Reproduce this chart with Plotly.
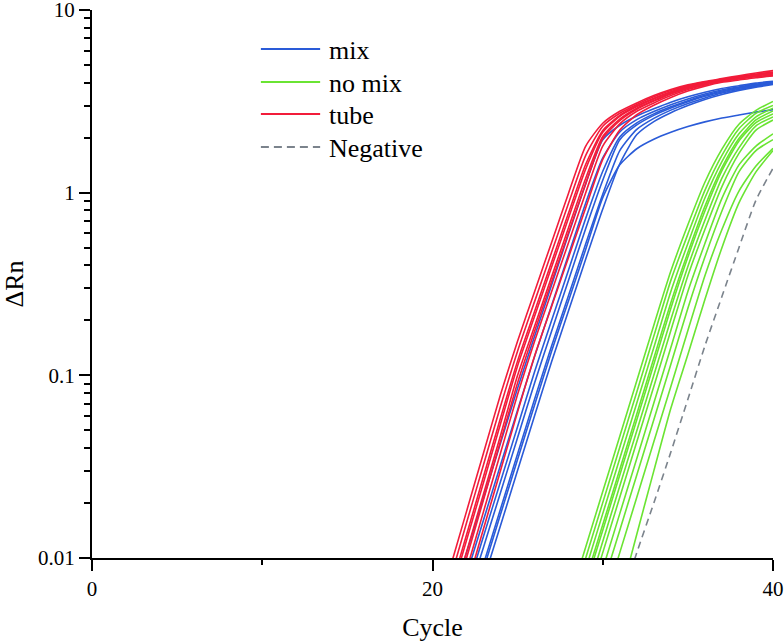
import plotly.graph_objects as go

# ---------------- data ----------------
# Each curve: first cycle number, then ΔRn at consecutive integer cycles up to 40
mix_start = [21, 22, 22, 22, 23, 23, 23]
mix_values = [
    [0.0054, 0.0107, 0.0214, 0.0427, 0.0851, 0.164, 0.313, 0.597, 1.12, 1.95, 2.34, 2.63, 2.88, 3.13, 3.35, 3.55, 3.72, 3.85, 3.98, 4.07],
    [0.0081, 0.0162, 0.0324, 0.0646, 0.127, 0.242, 0.461, 0.879, 1.55, 2.15, 2.51, 2.78, 3.03, 3.26, 3.47, 3.65, 3.79, 3.93, 4.04],
    [0.0066, 0.0132, 0.0263, 0.0525, 0.105, 0.200, 0.380, 0.724, 1.31, 2.02, 2.41, 2.70, 2.95, 3.19, 3.41, 3.60, 3.75, 3.89, 4.01],
    [0.0058, 0.0115, 0.0229, 0.0457, 0.0912, 0.175, 0.334, 0.637, 1.17, 1.95, 2.35, 2.65, 2.91, 3.15, 3.37, 3.56, 3.73, 3.86, 3.99],
    [0.0093, 0.0186, 0.0372, 0.0741, 0.145, 0.275, 0.525, 0.98, 1.70, 2.22, 2.55, 2.83, 3.08, 3.30, 3.51, 3.68, 3.82, 3.95],
    [0.0076, 0.0151, 0.0302, 0.0603, 0.119, 0.227, 0.433, 0.814, 1.44, 2.08, 2.45, 2.74, 3.00, 3.24, 3.45, 3.63, 3.78, 3.91],
    [0.0087, 0.0174, 0.0347, 0.069, 0.136, 0.258, 0.49, 0.94, 1.42, 1.74, 1.96, 2.14, 2.30, 2.44, 2.56, 2.66, 2.76, 2.85],
]

nomix_start = [28, 28, 29, 29, 29, 29, 29, 30, 30, 30, 31]
nomix_values = [
    [0.0057, 0.0115, 0.0231, 0.0464, 0.0933, 0.188, 0.372, 0.667, 1.14, 1.73, 2.37, 2.82, 3.16],
    [0.005, 0.010, 0.0201, 0.0404, 0.0811, 0.164, 0.331, 0.593, 1.03, 1.60, 2.24, 2.72, 3.0],
    [0.0087, 0.0175, 0.0351, 0.0705, 0.142, 0.288, 0.527, 0.935, 1.48, 2.10, 2.6, 2.9],
    [0.0076, 0.0152, 0.0305, 0.0614, 0.124, 0.250, 0.470, 0.841, 1.37, 1.98, 2.5, 2.8],
    [0.0071, 0.0142, 0.0285, 0.0572, 0.115, 0.233, 0.444, 0.794, 1.32, 1.92, 2.42, 2.7],
    [0.0061, 0.0123, 0.0248, 0.0498, 0.100, 0.202, 0.394, 0.706, 1.20, 1.76, 2.32, 2.6],
    [0.0053, 0.0107, 0.0215, 0.0433, 0.0869, 0.176, 0.351, 0.628, 1.08, 1.64, 2.2, 2.5],
    [0.0087, 0.0175, 0.0351, 0.0705, 0.142, 0.288, 0.527, 0.93, 1.42, 1.80, 2.10],
    [0.0071, 0.0142, 0.0285, 0.0572, 0.115, 0.233, 0.444, 0.794, 1.30, 1.70, 1.95],
    [0.0053, 0.0107, 0.0215, 0.0433, 0.0869, 0.176, 0.351, 0.628, 1.02, 1.40, 1.75],
    [0.006, 0.0135, 0.030, 0.066, 0.13, 0.26, 0.50, 0.88, 1.3, 1.7],
]

tube_start = [21, 21, 21, 21, 21, 21, 21, 21]
tube_values = [
    [0.0086, 0.018, 0.0377, 0.0787, 0.154, 0.288, 0.536, 1.0, 1.80, 2.40, 2.79, 3.10, 3.40, 3.67, 3.89, 4.06, 4.21, 4.37, 4.52, 4.66],
    [0.0074, 0.0156, 0.0325, 0.0679, 0.136, 0.254, 0.473, 0.881, 1.60, 2.31, 2.72, 3.04, 3.35, 3.62, 3.85, 4.03, 4.17, 4.32, 4.45, 4.58],
    [0.0064, 0.0134, 0.028, 0.0586, 0.120, 0.224, 0.418, 0.778, 1.43, 2.19, 2.65, 2.99, 3.29, 3.57, 3.81, 4.00, 4.14, 4.29, 4.43, 4.53],
    [0.006, 0.0125, 0.026, 0.0545, 0.113, 0.211, 0.393, 0.731, 1.35, 2.14, 2.62, 2.96, 3.26, 3.55, 3.79, 3.98, 4.13, 4.28, 4.42, 4.52],
    [0.0052, 0.0108, 0.0225, 0.047, 0.100, 0.186, 0.347, 0.646, 1.20, 2.03, 2.53, 2.90, 3.20, 3.50, 3.75, 3.95, 4.10, 4.25, 4.40, 4.50],
    [0.0048, 0.0100, 0.0209, 0.0437, 0.0912, 0.175, 0.326, 0.607, 1.12, 1.98, 2.48, 2.86, 3.17, 3.47, 3.72, 3.94, 4.08, 4.23, 4.36, 4.46],
    [0.0041, 0.0086, 0.018, 0.0377, 0.0787, 0.154, 0.288, 0.536, 1.0, 1.80, 2.38, 2.79, 3.10, 3.40, 3.67, 3.89, 4.06, 4.19, 4.31, 4.40],
    [0.0033, 0.0069, 0.0145, 0.0302, 0.0631, 0.128, 0.239, 0.445, 0.828, 1.52, 2.20, 2.67, 3.01, 3.32, 3.60, 3.83, 4.02, 4.14, 4.26, 4.35],
]

negative_start = [31]
negative_values = [
    [0.0055, 0.0107, 0.020, 0.038, 0.074, 0.145, 0.27, 0.50, 0.91, 1.36],
]

x_ticks = [0, 20, 40]
x_minor = [10, 30]
y_ticks = [0.01, 0.1, 1, 10]
y_ticklabels = ["0.01", "0.1", "1", "10"]

# ---------------- styling ----------------
FONT = "Liberation Serif"
groups = [
    ("mix", "#2a5bd8", mix_start, mix_values, "solid", "solid"),
    ("no mix", "#6ae432", nomix_start, nomix_values, "solid", "solid"),
    ("tube", "#f21c3a", tube_start, tube_values, "solid", "solid"),
    ("Negative", "#7b838c", negative_start, negative_values, "7px,5px", "8px,5px"),
]

fig = go.Figure()
for name, color, starts, values, dash, _ in groups:
    for s, v in zip(starts, values):
        fig.add_trace(go.Scatter(
            x=list(range(s, s + len(v))), y=v, mode="lines",
            line=dict(color=color, width=1.6, dash=dash, shape="spline", smoothing=0.6),
            name=name, legendgroup=name, showlegend=False, hoverinfo="skip",
        ))

# legend drawn in paper coordinates (long sample lines like the reference)
leg_x0, leg_x1, leg_tx = 0.248, 0.335, 0.345
leg_y = [0.9288, 0.8686, 0.8102, 0.7500]
shapes, annotations = [], []
for (name, color, _, _, _, ldash), yy in zip(groups, leg_y):
    shapes.append(dict(type="line", xref="paper", yref="paper", x0=leg_x0, x1=leg_x1, y0=yy, y1=yy,
                       line=dict(color=color, width=2, dash=ldash)))
    annotations.append(dict(xref="paper", yref="paper", x=leg_tx, y=yy - 0.002, text=name, showarrow=False,
                            xanchor="left", yanchor="middle", font=dict(family=FONT, size=26, color="black")))

minor_y = [m * 10.0 ** e for e in (-2, -1, 0) for m in range(2, 10)]

fig.update_layout(
    width=784, height=642,
    margin=dict(l=92, r=11, t=10, b=84, autoexpand=False),
    paper_bgcolor="white", plot_bgcolor="white",
    font=dict(family=FONT, size=21, color="black"),
    showlegend=False,
    shapes=shapes, annotations=annotations,
    xaxis=dict(
        range=[0, 40], tickmode="array", tickvals=x_ticks, automargin=False,
        ticks="outside", ticklen=11, tickwidth=2, tickcolor="black", ticklabelstandoff=0,
        ticklabeloverflow="allow",
        showline=True, linewidth=2, linecolor="black",
        showgrid=False, zeroline=False,
        minor=dict(tickmode="array", tickvals=x_minor, ticks="outside", ticklen=5, tickwidth=2, tickcolor="black", showgrid=False),
        tickfont=dict(family=FONT, size=21),
        title=dict(text="Cycle", font=dict(family=FONT, size=26), standoff=18),
    ),
    yaxis=dict(
        type="log", range=[-2, 1], tickmode="array", tickvals=y_ticks, ticktext=y_ticklabels, automargin=False,
        ticks="outside", ticklen=11, tickwidth=2, tickcolor="black",
        ticklabeloverflow="allow",
        showline=True, linewidth=2, linecolor="black",
        showgrid=False, zeroline=False,
        minor=dict(tickmode="array", tickvals=minor_y, ticks="outside", ticklen=6, tickwidth=2, tickcolor="black", showgrid=False),
        tickfont=dict(family=FONT, size=21),
        title=dict(text="ΔRn", font=dict(family=FONT, size=26), standoff=18),
    ),
)

fig.write_html("out.html", config={"displayModeBar": False},
               post_script="document.body.style.margin='0px'; document.body.style.overflow='hidden';")
